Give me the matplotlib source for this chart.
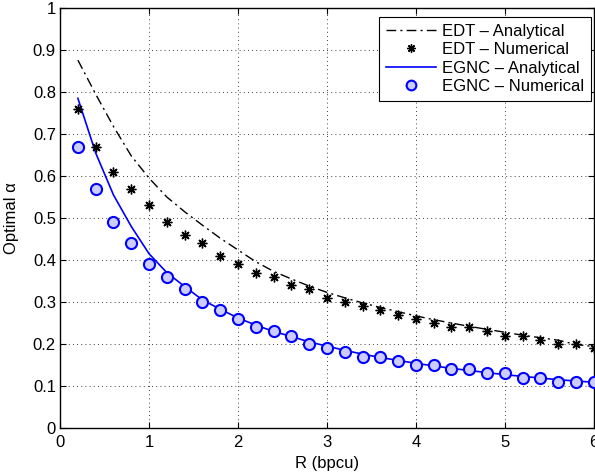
import matplotlib
matplotlib.use("Agg")
import matplotlib.pyplot as plt
from matplotlib.lines import Line2D

plt.rcParams['font.family'] = ['Liberation Sans', 'DejaVu Sans']
plt.rcParams['font.size'] = 12

# rate grid (bpcu)
rate = [0.2, 0.4, 0.6, 0.8, 1.0, 1.2, 1.4, 1.6, 1.8, 2.0,
        2.2, 2.4, 2.6, 2.8, 3.0, 3.2, 3.4, 3.6, 3.8, 4.0,
        4.2, 4.4, 4.6, 4.8, 5.0, 5.2, 5.4, 5.6, 5.8, 6.0]

edt_analytical = [0.876, 0.795, 0.718, 0.648, 0.595, 0.550, 0.515, 0.483, 0.452, 0.424,
                  0.396, 0.373, 0.355, 0.338, 0.323, 0.310, 0.298, 0.287, 0.277, 0.267,
                  0.258, 0.250, 0.242, 0.235, 0.228, 0.221, 0.215, 0.209, 0.199, 0.194]
edt_numerical = [0.76, 0.67, 0.61, 0.57, 0.53, 0.49, 0.46, 0.44, 0.41, 0.39,
                 0.37, 0.36, 0.34, 0.33, 0.31, 0.30, 0.29, 0.28, 0.27, 0.26,
                 0.25, 0.24, 0.24, 0.23, 0.22, 0.22, 0.21, 0.20, 0.20, 0.19]
egnc_analytical = [0.785, 0.655, 0.555, 0.480, 0.415, 0.370, 0.337, 0.305, 0.283, 0.262,
                   0.245, 0.230, 0.218, 0.205, 0.195, 0.185, 0.176, 0.168, 0.161, 0.154,
                   0.148, 0.142, 0.137, 0.132, 0.127, 0.123, 0.119, 0.115, 0.112, 0.109]
egnc_numerical = [0.67, 0.57, 0.49, 0.44, 0.39, 0.36, 0.33, 0.30, 0.28, 0.26,
                  0.24, 0.23, 0.22, 0.20, 0.19, 0.18, 0.17, 0.17, 0.16, 0.15,
                  0.15, 0.14, 0.14, 0.13, 0.13, 0.12, 0.12, 0.11, 0.11, 0.11]

x_ticks = [0, 1, 2, 3, 4, 5, 6]
y_ticks = [0, 0.1, 0.2, 0.3, 0.4, 0.5, 0.6, 0.7, 0.8, 0.9, 1]
y_ticklabels = ['0', '0.1', '0.2', '0.3', '0.4', '0.5', '0.6', '0.7', '0.8', '0.9', '1']

fig = plt.figure(figsize=(5.95, 4.74), dpi=100)
ax = fig.add_axes([0.101, 0.097, 0.897, 0.886])

dashdot = (0, (7, 3, 1.5, 3))
star = (8, 2, 0)

ax.plot(rate, edt_analytical, color='black', linestyle=dashdot, linewidth=1.0, zorder=3)
ax.plot(rate, edt_numerical, linestyle='none', marker=star, markersize=7,
        markeredgewidth=1.0, color='black', zorder=4)
ax.plot(rate, egnc_analytical, color='blue', linewidth=1.2, zorder=3)
ax.plot(rate, egnc_numerical, linestyle='none', marker='o', markersize=8,
        markerfacecolor=(0.8, 0.8, 1.0), markeredgecolor='blue',
        markeredgewidth=1.5, zorder=5)

ax.set_xlim(0, 6)
ax.set_ylim(0, 1)
ax.set_xticks(x_ticks)
ax.set_yticks(y_ticks)
ax.set_yticklabels(y_ticklabels)
ax.grid(True, color='black', linestyle=(0, (1, 4)), linewidth=0.6)
ax.tick_params(direction='in', top=True, right=True, length=4, width=0.8, pad=3)
ax.tick_params(axis='x', pad=5)
for s in ax.spines.values():
    s.set_linewidth(1.0)

ax.set_xlabel('R (bpcu)', labelpad=4)
ax.set_ylabel('Optimal α', labelpad=10)

handles = [
    Line2D([], [], color='black', linestyle=dashdot, linewidth=1.0),
    Line2D([], [], linestyle='none', marker=star, markersize=6,
           markeredgewidth=1.0, color='black'),
    Line2D([], [], color='blue', linewidth=1.2),
    Line2D([], [], linestyle='none', marker='o', markersize=7,
           markerfacecolor=(0.8, 0.8, 1.0), markeredgecolor='blue', markeredgewidth=1.5),
]
labels = ['EDT – Analytical', 'EDT – Numerical', 'EGNC – Analytical', 'EGNC – Numerical']
leg = ax.legend(handles, labels, loc='upper right', bbox_to_anchor=(0.995, 0.978),
                fancybox=False, framealpha=1, edgecolor='black', borderaxespad=0,
                handlelength=3.0, labelspacing=0.2, borderpad=0.4, handletextpad=0.4)
leg.get_frame().set_linewidth(0.8)

fig.savefig('out.png', dpi=100)
